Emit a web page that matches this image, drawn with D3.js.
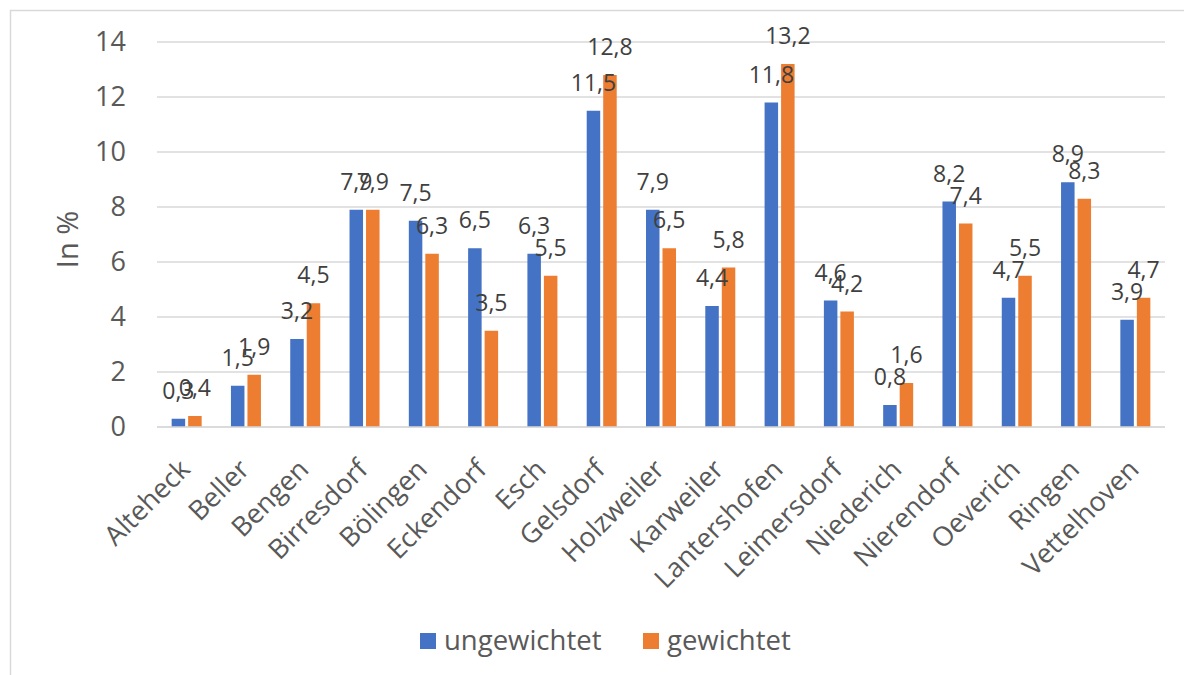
<!DOCTYPE html>
<html>
<head>
<meta charset="utf-8">
<script src="https://cdn.jsdelivr.net/npm/d3@7"></script>
<style>
  html, body { margin: 0; padding: 0; background: #fff; }
  svg { display: block; font-family: "Open Sans", "Noto Sans", sans-serif; }
</style>
</head>
<body>
<svg id="chart" width="1184" height="675"></svg>
<script>
// Ortschaften und Anteile in %
const categories = ["Alteheck", "Beller", "Bengen", "Birresdorf", "Bölingen", "Eckendorf", "Esch",
  "Gelsdorf", "Holzweiler", "Karweiler", "Lantershofen", "Leimersdorf", "Niederich",
  "Nierendorf", "Oeverich", "Ringen", "Vettelhoven"];
const ungewichtet = [0.3, 1.5, 3.2, 7.9, 7.5, 6.5, 6.3, 11.5, 7.9, 4.4, 11.8, 4.6, 0.8, 8.2, 4.7, 8.9, 3.9];
const gewichtet   = [0.4, 1.9, 4.5, 7.9, 6.3, 3.5, 5.5, 12.8, 6.5, 5.8, 13.2, 4.2, 1.6, 7.4, 5.5, 8.3, 4.7];
const seriesNames = ["ungewichtet", "gewichtet"];
const yTicks = [0, 2, 4, 6, 8, 10, 12, 14];

const colors = ["#4472C4", "#ED7D31"];
const svg = d3.select("#chart");

// Rahmen des Diagrammbereichs
svg.append("rect")
  .attr("x", 10.5).attr("y", 10.5)
  .attr("width", 1190).attr("height", 700)
  .attr("fill", "none").attr("stroke", "#D9D9D9").attr("stroke-width", 1.5);

const plot = { left: 157, right: 1165, top: 42, bottom: 427 };

const x = d3.scaleBand().domain(categories).range([plot.left, plot.right]).paddingInner(0).paddingOuter(0);
const y = d3.scaleLinear().domain([0, 14]).range([plot.bottom, plot.top]);
const barW = 13.5, barGap = 3;

// Gitterlinien
svg.append("g").selectAll("line").data(yTicks).join("line")
  .attr("x1", plot.left).attr("x2", plot.right)
  .attr("y1", d => y(d)).attr("y2", d => y(d))
  .attr("stroke", "#D9D9D9").attr("stroke-width", 1.5);

// Y-Achse
const yAxis = svg.append("g").attr("transform", `translate(${plot.left - 31},0)`)
  .call(d3.axisLeft(y).tickValues(yTicks).tickSize(0).tickPadding(0).tickFormat(d3.format("d")));
yAxis.select(".domain").remove();
yAxis.selectAll("text").attr("fill", "#595959").attr("font-size", 27).attr("font-family", "'Open Sans', sans-serif");

svg.append("text")
  .attr("transform", `translate(78,${(plot.top + plot.bottom) / 2 + 5}) rotate(-90)`)
  .attr("text-anchor", "middle")
  .attr("fill", "#595959").attr("font-size", 29)
  .text("In %");

// Balken
const data = categories.map((c, i) => ({ c, vals: [ungewichtet[i], gewichtet[i]] }));
const barX = (c, s) => x(c) + x.bandwidth() / 2 + (s === 0 ? -barGap / 2 - barW : barGap / 2);

const groups = svg.append("g").selectAll("g").data(data).join("g");
groups.selectAll("rect").data(d => d.vals.map((v, s) => ({ c: d.c, v, s }))).join("rect")
  .attr("x", d => barX(d.c, d.s))
  .attr("y", d => y(d.v))
  .attr("width", barW)
  .attr("height", d => y(0) - y(d.v))
  .attr("fill", d => colors[d.s]);

// Datenbeschriftungen
const fmt = v => d3.format(".1f")(v).replace(".", ",");
groups.selectAll("text").data(d => d.vals.map((v, s) => ({ c: d.c, v, s }))).join("text")
  .attr("x", d => barX(d.c, d.s) + barW / 2)
  .attr("y", d => y(d.v) - 20)
  .attr("text-anchor", "middle")
  .attr("fill", "#404040").attr("font-size", 23)
  .text(d => fmt(d.v));

// Grundlinie
svg.append("line")
  .attr("x1", plot.left).attr("x2", plot.right)
  .attr("y1", plot.bottom).attr("y2", plot.bottom)
  .attr("stroke", "#D9D9D9").attr("stroke-width", 1.5);

// Kategorienbeschriftungen
svg.append("g").selectAll("text").data(categories).join("text")
  .attr("transform", d => `translate(${x(d) + x.bandwidth() / 2 + 5},${plot.bottom + 44}) rotate(-45)`)
  .attr("text-anchor", "end")
  .attr("fill", "#595959").attr("font-size", 27)
  .text(d => d);

// Legende
const legend = svg.append("g");
const legendItems = [{ x: 420, name: seriesNames[0], col: colors[0] }, { x: 643, name: seriesNames[1], col: colors[1] }];
legendItems.forEach(it => {
  legend.append("rect").attr("x", it.x).attr("y", 633).attr("width", 16).attr("height", 16).attr("fill", it.col);
  legend.append("text").attr("x", it.x + 24).attr("y", 650)
    .attr("fill", "#595959").attr("font-size", 27.5).text(it.name);
});
</script>
</body>
</html>
